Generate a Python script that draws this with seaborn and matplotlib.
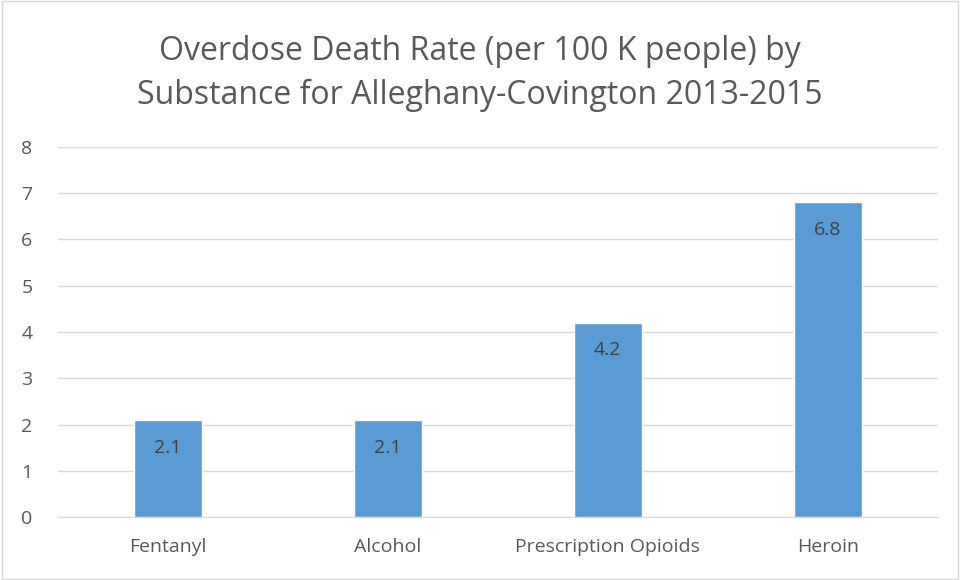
import matplotlib
matplotlib.use("Agg")
import matplotlib.pyplot as plt
import seaborn as sns
import pandas as pd

substances = ["Fentanyl", "Alcohol", "Prescription Opioids", "Heroin"]
rates = [2.1, 2.1, 4.2, 6.8]
yticks = [0, 1, 2, 3, 4, 5, 6, 7, 8]

df = pd.DataFrame({"Substance": substances, "Rate": rates})

sns.set_style("white")
plt.rcParams['font.family'] = ['Open Sans', 'DejaVu Sans']

fig = plt.figure(figsize=(9.6, 5.8), dpi=100)
ax = fig.add_axes([0.060, 0.1086, 0.917, 0.638])

sns.barplot(data=df, x="Substance", y="Rate", color="#5B9BD5", width=0.31,
            saturation=1, ax=ax)

ax.set_ylim(0, 8)
ax.set_yticks(yticks)
ax.yaxis.grid(True, color="#D9D9D9", linewidth=1)
ax.set_axisbelow(True)
for s in ["top", "right", "left"]:
    ax.spines[s].set_visible(False)
ax.spines["bottom"].set_color("#D9D9D9")
ax.tick_params(axis="x", length=0, colors="#595959", labelsize=14, pad=15)
ax.tick_params(axis="y", length=0, colors="#595959", labelsize=14, pad=18)
ax.set_xlabel("")
ax.set_ylabel("")

# value labels just under the top of each bar
for i, v in enumerate(rates):
    ax.text(i, v - 0.6, f"{v}", ha="center", va="center", fontsize=14, color="#404040")

fig.suptitle("Overdose Death Rate (per 100 K people) by\nSubstance for Alleghany-Covington 2013-2015",
             y=0.94, fontsize=23, color="#595959", linespacing=1.45)

fig.patches.append(plt.Rectangle((0.002, 0.002), 0.996, 0.996, transform=fig.transFigure,
                                 fill=False, edgecolor="#D9D9D9", linewidth=1))

fig.savefig("out.png", dpi=100)
